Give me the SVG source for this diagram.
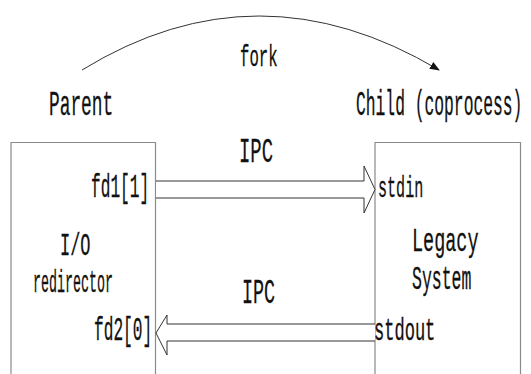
<svg xmlns="http://www.w3.org/2000/svg" width="531" height="374" viewBox="0 0 531 374">
  <defs>
    <marker id="tip" viewBox="0 0 10 10" refX="9" refY="5" markerWidth="10" markerHeight="10" markerUnits="userSpaceOnUse" orient="auto">
      <path d="M0,1 L10,5 L0,9 Z" fill="#111"/>
    </marker>
  </defs>
  <style>
    .m { font-family: "Liberation Mono", "DejaVu Sans Mono", monospace; fill: #111; stroke: #111; stroke-width: 0.3; }
    .box { fill: none; stroke: #8a8a8a; stroke-width: 1.2; }
    .pipe { fill: #fff; stroke: #333; stroke-width: 1; stroke-linejoin: miter; }
    .fork { fill: none; stroke: #333; stroke-width: 1; }
  </style>
  <rect width="531" height="374" fill="#fff"/>

  <!-- process labels above the boxes (condensed monospace) -->
  <text class="m" font-size="35" transform="translate(49,115) scale(0.51,1)">Parent</text>
  <text class="m" font-size="35" transform="translate(356,115) scale(0.466,1)">Child (coprocess)</text>

  <!-- parent process: I/O redirector -->
  <g id="parent">
    <path class="box" d="M11,376 V142.5 H155.5 V376"/>
    <text class="m" font-size="32" transform="translate(60,255) scale(0.53,1)">I/O</text>
    <text class="m" font-size="31" transform="translate(33,292) scale(0.43,1)">redirector</text>
    <text class="m" font-size="33" transform="translate(91,197) scale(0.49,1)">fd1[1]</text>
    <text class="m" font-size="33" transform="translate(94,340) scale(0.49,1)">fd2[0]</text>
  </g>

  <!-- child process: legacy system -->
  <g id="child">
    <path class="box" d="M375,376 V142.5 H520.5 V376"/>
    <text class="m" font-size="33" transform="translate(412,251) scale(0.56,1)">Legacy</text>
    <text class="m" font-size="33" transform="translate(412,289) scale(0.5,1)">System</text>
    <text class="m" font-size="29" transform="translate(378,197) scale(0.52,1)">stdin</text>
    <text class="m" font-size="31" transform="translate(374,340) scale(0.55,1)">stdout</text>
  </g>

  <g id="connectors">
    <!-- fork arc -->
    <path class="fork" d="M82,70 Q258,-38 439,70" marker-end="url(#tip)"/>
    <text class="m" font-size="29" transform="translate(240,66) scale(0.54,1)">fork</text>

    <!-- pipe: parent to child -->
    <path class="pipe" d="M156,181 H364 V166 L375,189.5 L364,213 V198 H156"/>
    <text class="m" font-size="35" transform="translate(239,162) scale(0.54,1)">IPC</text>

    <!-- pipe: child to parent -->
    <path class="pipe" d="M375,324 H167 V315 L156,333 L167,355 V341 H375"/>
    <text class="m" font-size="35" transform="translate(242,303) scale(0.525,1)">IPC</text>
  </g>
</svg>
